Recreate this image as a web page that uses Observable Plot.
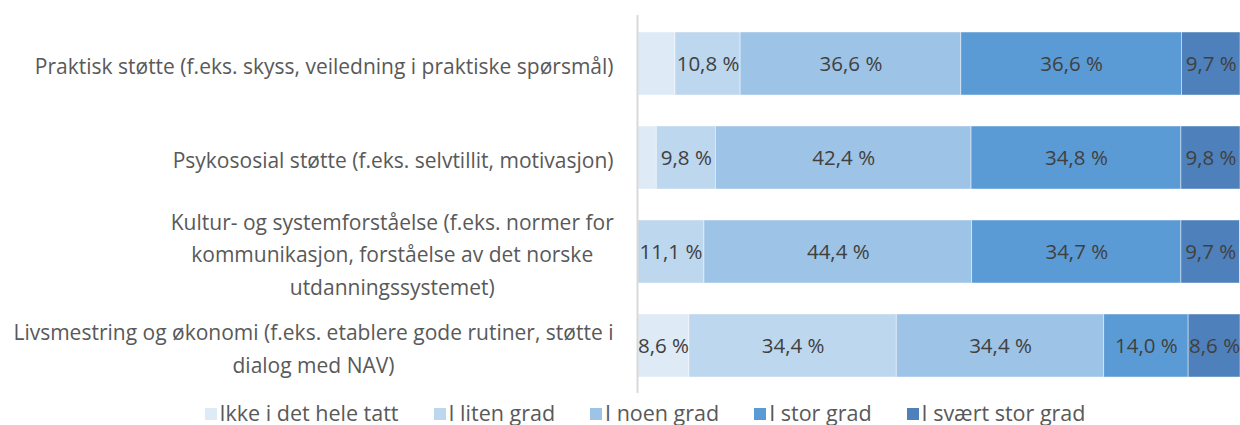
<!DOCTYPE html>
<html>
<head>
<meta charset="utf-8">
<script src="https://cdn.jsdelivr.net/npm/d3@7"></script>
<script src="https://cdn.jsdelivr.net/npm/@observablehq/plot@0.6"></script>
<style>
  html, body { margin: 0; padding: 0; background: #fff; }
  body { width: 1240px; height: 425px; overflow: hidden; font-family: "Open Sans", Lato, sans-serif; }
  #legend { display: flex; justify-content: center; align-items: center; gap: 35px; height: 29px; line-height: 29px;
            margin-top: -2px; font-size: 21.5px; color: #595959; padding-left: 50px; }
  #legend .item { display: flex; align-items: center; gap: 3px; white-space: nowrap; }
  #legend .sw { width: 12px; height: 12px; display: inline-block; margin-top: 2px; }
</style>
</head>
<body>
<div id="chart"></div>
<div id="legend"></div>
<script>
const categories = [
  "Praktisk støtte (f.eks. skyss, veiledning i praktiske spørsmål)",
  "Psykososial støtte (f.eks. selvtillit, motivasjon)",
  "Kultur- og systemforståelse (f.eks. normer for kommunikasjon, forståelse av det norske utdanningssystemet)",
  "Livsmestring og økonomi (f.eks. etablere gode rutiner, støtte i dialog med NAV)"
];
const categoryLabels = [
  "Praktisk støtte (f.eks. skyss, veiledning i praktiske spørsmål)",
  "Psykososial støtte (f.eks. selvtillit, motivasjon)",
  "Kultur- og systemforståelse (f.eks. normer for\nkommunikasjon, forståelse av det norske\nutdanningssystemet)",
  "Livsmestring og økonomi (f.eks. etablere gode rutiner, støtte i\ndialog med NAV)"
];
const series = ["Ikke i det hele tatt", "I liten grad", "I noen grad", "I stor grad", "I svært stor grad"];
const ikkeIDetHeleTatt = [6.3, 3.2, 0, 8.6];
const iLitenGrad = [10.8, 9.8, 11.1, 34.4];
const iNoenGrad = [36.6, 42.4, 44.4, 34.4];
const iStorGrad = [36.6, 34.8, 34.7, 14.0];
const iSvaertStorGrad = [9.7, 9.8, 9.7, 8.6];
const colors = ["#DEEBF7", "#BDD7EE", "#9DC3E6", "#5B9BD5", "#4E80BC"];

const seriesValues = [ikkeIDetHeleTatt, iLitenGrad, iNoenGrad, iStorGrad, iSvaertStorGrad];
const data = [];
categories.forEach((c, i) => {
  series.forEach((s, j) => data.push({category: c, series: s, value: seriesValues[j][i]}));
});
const labelOf = new Map(categories.map((c, i) => [c, categoryLabels[i]]));
const fmt = v => v.toFixed(1).replace(".", ",") + " %";

const chart = Plot.plot({
  width: 1240,
  height: 400,
  marginLeft: 637,
  marginRight: 0,
  marginTop: 15,
  marginBottom: 7,
  style: {fontFamily: "'Open Sans', Lato, sans-serif", background: "#fff"},
  x: {domain: [0, 100], axis: null},
  y: {domain: categories, paddingInner: 0.333, paddingOuter: 0.16, axis: null},
  color: {domain: series, range: colors},
  marks: [
    Plot.barX(data, Plot.stackX({x: "value", y: "category", fill: "series",
      stroke: "#ffffff", strokeWidth: 0.8, strokeOpacity: 0.55})),
    Plot.text(data, Plot.stackX({x: "value", y: "category", z: "series",
      text: d => d.value >= 8 ? fmt(d.value) : null,
      fill: "#404040", fontSize: 20.5})),
    Plot.ruleX([0], {stroke: "#d9d9d9", strokeWidth: 2}),
    Plot.axisY({tickSize: 0, tickPadding: 24, fontSize: 21, fill: "#595959",
      lineHeight: 1.55, tickFormat: c => labelOf.get(c), label: null})
  ]
});
document.getElementById("chart").appendChild(chart);

// center multi-line labels within their right-aligned block (as in the original)
chart.querySelectorAll('[aria-label="y-axis tick label"] text').forEach(t => {
  const spans = t.querySelectorAll("tspan");
  if (spans.length > 1) {
    const b = t.getBBox();
    const cx = b.x + b.width / 2;
    t.setAttribute("text-anchor", "middle");
    spans.forEach(s => s.setAttribute("x", cx));
  }
});

const legend = document.getElementById("legend");
series.forEach((s, i) => {
  const item = document.createElement("div");
  item.className = "item";
  const sw = document.createElement("span");
  sw.className = "sw";
  sw.style.background = colors[i];
  const tx = document.createElement("span");
  tx.textContent = s;
  item.appendChild(sw);
  item.appendChild(tx);
  legend.appendChild(item);
});
</script>
</body>
</html>
